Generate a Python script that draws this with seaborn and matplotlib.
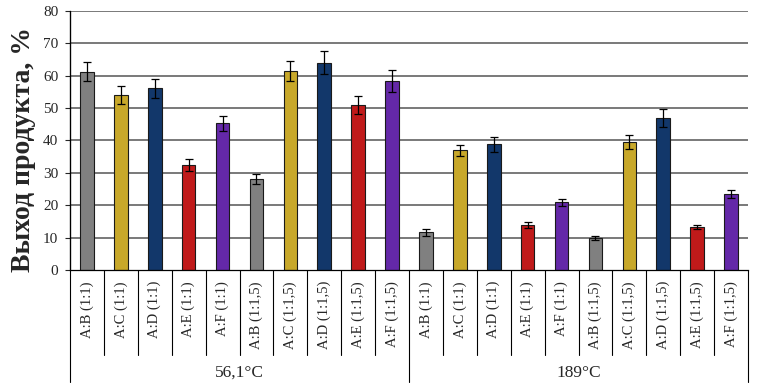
import numpy as np
import pandas as pd
import matplotlib
matplotlib.use("Agg")
import matplotlib.pyplot as plt
import seaborn as sns
from matplotlib.transforms import blended_transform_factory

categories = ['A:B (1:1)', 'A:C (1:1)', 'A:D (1:1)', 'A:E (1:1)', 'A:F (1:1)',
              'A:B (1:1,5)', 'A:C (1:1,5)', 'A:D (1:1,5)', 'A:E (1:1,5)', 'A:F (1:1,5)']
components = ['B', 'C', 'D', 'E', 'F', 'B', 'C', 'D', 'E', 'F']
temps = ['56,1°C', '189°C']
yield_561 = [61.3, 54.0, 56.1, 32.4, 45.3, 28.1, 61.4, 64.0, 51.0, 58.3]
err_561 = [2.8, 2.7, 3.0, 1.9, 2.3, 1.6, 3.1, 3.6, 2.7, 3.4]
yield_189 = [11.6, 37.0, 38.8, 13.9, 20.9, 10.0, 39.5, 47.0, 13.3, 23.4]
err_189 = [1.1, 1.7, 2.2, 0.9, 1.1, 0.6, 2.1, 2.7, 0.6, 1.2]
yticks = [0, 10, 20, 30, 40, 50, 60, 70, 80]
ylabel = 'Выход продукта, %'

palette = {'B': '#808080', 'C': '#c8a82a', 'D': '#12376a', 'E': '#c01a1a', 'F': '#6428a8'}

df = pd.DataFrame({
    'pos': list(range(20)),
    'label': categories + categories,
    'comp': components + components,
    'value': yield_561 + yield_189,
    'err': err_561 + err_189,
})

sns.set_style('white')
plt.rcParams['font.family'] = ['Liberation Serif', 'DejaVu Serif']

fig = plt.figure(figsize=(7.59, 3.86), dpi=100)
ax = fig.add_axes([70 / 759, 116 / 386, 678 / 759, 259 / 386])

for y in yticks[1:]:
    ax.axhline(y, color='#555555', lw=1.1, zorder=0)

sns.barplot(data=df, x='pos', y='value', hue='comp', palette=palette, dodge=False,
            saturation=1, width=0.4, edgecolor='#1a1a1a', linewidth=0.8, legend=False,
            ax=ax, zorder=2)
ax.errorbar(df['pos'], df['value'], yerr=df['err'], fmt='none', ecolor='black',
            elinewidth=0.9, capsize=3, capthick=0.9, zorder=3)

ax.set_xlim(-0.5, 19.5)
ax.set_ylim(0, 80)
ax.set_yticks(yticks)
ax.set_yticklabels([str(v) for v in yticks], fontsize=11)
ax.set_xticks(df['pos'])
ax.set_xticklabels(df['label'], rotation=90, fontsize=10.5, va='top', ha='center')
ax.tick_params(axis='x', length=0, pad=8)
ax.tick_params(axis='y', length=3.5, width=0.8, pad=5, left=True, direction='out')
ax.set_xlabel('')
ax.set_ylabel('')

for s in ['top', 'right']:
    ax.spines[s].set_visible(False)
ax.spines['left'].set_color('black')
ax.spines['left'].set_linewidth(0.9)
ax.spines['bottom'].set_color('black')
ax.spines['bottom'].set_linewidth(0.9)

tr = blended_transform_factory(ax.transData, ax.transAxes)
for i in range(21):
    x = i - 0.5
    ybot = -0.432 if i in (0, 10, 20) else -0.328
    ytop = 1.0 if i == 0 else 0.0
    ax.plot([x, x], [ybot, ytop], color='black', lw=0.8, transform=tr, clip_on=False)

for k, t in enumerate(temps):
    ax.text(4.5 + 10 * k, -0.398, t, transform=tr, ha='center', va='center', fontsize=12.5)

fig.text(24 / 759, (386 - 150) / 386, ylabel, rotation=90, ha='center', va='center',
         fontsize=20, fontweight='bold')

fig.savefig('out.png', dpi=100)
